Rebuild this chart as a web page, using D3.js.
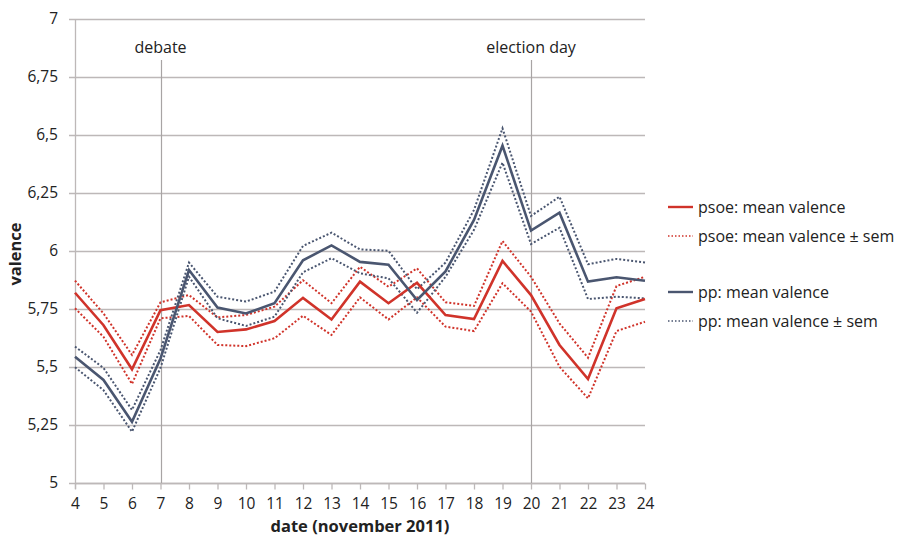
<!DOCTYPE html>
<html>
<head>
<meta charset="utf-8">
<script src="https://cdn.jsdelivr.net/npm/d3@7"></script>
<style>
  html, body { margin: 0; padding: 0; background: #fff; }
  svg { display: block; font-family: "Open Sans", "Noto Sans", sans-serif; }
</style>
</head>
<body>
<svg id="chart" width="902" height="538"></svg>
<script>
// Days of November 2011
const days = [4, 5, 6, 7, 8, 9, 10, 11, 12, 13, 14, 15, 16, 17, 18, 19, 20, 21, 22, 23, 24];

// PSOE mean valence and mean ± standard error
const psoeMean  = [5.82, 5.68, 5.49, 5.745, 5.767, 5.651, 5.662, 5.698, 5.798, 5.705, 5.868, 5.775, 5.863, 5.724, 5.707, 5.957, 5.81, 5.595, 5.448, 5.753, 5.793];
const psoeUpper = [5.872, 5.731, 5.552, 5.779, 5.81, 5.714, 5.724, 5.76, 5.874, 5.775, 5.932, 5.846, 5.925, 5.779, 5.763, 6.043, 5.889, 5.688, 5.54, 5.849, 5.889];
const psoeLower = [5.753, 5.63, 5.427, 5.71, 5.72, 5.595, 5.59, 5.624, 5.721, 5.638, 5.80, 5.705, 5.80, 5.674, 5.655, 5.861, 5.739, 5.501, 5.365, 5.655, 5.695];

// PP mean valence and mean ± standard error
const ppMean  = [5.544, 5.444, 5.264, 5.537, 5.918, 5.756, 5.731, 5.775, 5.96, 6.024, 5.953, 5.941, 5.789, 5.912, 6.134, 6.454, 6.088, 6.165, 5.868, 5.887, 5.872];
const ppUpper = [5.588, 5.496, 5.315, 5.573, 5.95, 5.803, 5.782, 5.825, 6.022, 6.079, 6.007, 6.001, 5.835, 5.95, 6.177, 6.529, 6.151, 6.234, 5.943, 5.966, 5.95];
const ppLower = [5.499, 5.40, 5.221, 5.496, 5.889, 5.71, 5.677, 5.717, 5.908, 5.969, 5.904, 5.882, 5.734, 5.889, 6.091, 6.381, 6.03, 6.10, 5.793, 5.803, 5.796];

// Y axis ticks and their comma-decimal labels
const yTicks = [5, 5.25, 5.5, 5.75, 6, 6.25, 6.5, 6.75, 7];
const yTickLabels = ["5", "5,25", "5,5", "5,75", "6", "6,25", "6,5", "6,75", "7"];

// Marked events
const events = [{ day: 7, label: "debate" }, { day: 20, label: "election day" }];

const legendItems = [
  { label: "psoe: mean valence", color: "#d0332a", dashed: false },
  { label: "psoe: mean valence \u00b1 sem", color: "#d0332a", dashed: true },
  null,
  { label: "pp: mean valence", color: "#4a5670", dashed: false },
  { label: "pp: mean valence \u00b1 sem", color: "#4a5670", dashed: true }
];

const RED = "#d0332a";
const BLUE = "#4a5670";
const GRID = "#bdb8b8";
const FONT = "'Open Sans', 'Noto Sans', sans-serif";

const svg = d3.select("#chart");
const margin = { left: 75, right: 257, top: 19, bottom: 55 };
const W = 902, H = 538;

const x = d3.scaleLinear().domain([4, 24]).range([margin.left, W - margin.right]);
const y = d3.scaleLinear().domain([5, 7]).range([H - margin.bottom, margin.top]);

// Horizontal gridlines
svg.append("g")
  .selectAll("line")
  .data(yTicks)
  .join("line")
  .attr("x1", x(4) - 6).attr("x2", x(24))
  .attr("y1", d => Math.round(y(d)) + 0.5).attr("y2", d => Math.round(y(d)) + 0.5)
  .attr("stroke", GRID).attr("stroke-width", 1.3);

// Y axis labels
const yAxis = d3.axisLeft(y).tickValues(yTicks)
  .tickFormat((d, i) => yTickLabels[i]).tickSize(0).tickPadding(17);
svg.append("g")
  .attr("transform", `translate(${x(4)},0)`)
  .call(yAxis)
  .call(g => g.select(".domain").remove())
  .call(g => g.selectAll("text").attr("font-size", 15.5).attr("fill", "#222")
    .attr("font-family", FONT));

// Left axis line
svg.append("line")
  .attr("x1", x(4) + 0.5).attr("x2", x(4) + 0.5)
  .attr("y1", y(7)).attr("y2", y(5) + 6)
  .attr("stroke", GRID).attr("stroke-width", 1.3);

// X axis
const xAxis = d3.axisBottom(x).tickValues(days).tickSize(6).tickPadding(8).tickFormat(d3.format("d"));
svg.append("g")
  .attr("transform", `translate(0,${Math.round(y(5)) + 0.5})`)
  .call(xAxis)
  .call(g => g.select(".domain").attr("stroke", GRID).attr("stroke-width", 1.3).attr("d", `M${x(4)},0H${x(24)}`))
  .call(g => g.selectAll(".tick line").attr("stroke", GRID).attr("stroke-width", 1.3))
  .call(g => g.selectAll("text").attr("font-size", 15.5).attr("fill", "#222")
    .attr("font-family", FONT));

// Event markers
const ev = svg.append("g").selectAll("g").data(events).join("g");
ev.append("line")
  .attr("x1", d => Math.round(x(d.day)) + 0.5).attr("x2", d => Math.round(x(d.day)) + 0.5)
  .attr("y1", 60).attr("y2", y(5))
  .attr("stroke", "#a8a4a4").attr("stroke-width", 1.2);
ev.append("text")
  .attr("x", d => x(d.day)).attr("y", 53)
  .attr("text-anchor", "middle")
  .attr("font-size", 16).attr("fill", "#222")
  .text(d => d.label);

// Series lines
const line = d3.line().x((d, i) => x(days[i])).y(d => y(d));
const series = [
  { values: psoeUpper, color: RED, dashed: true },
  { values: psoeLower, color: RED, dashed: true },
  { values: ppUpper, color: BLUE, dashed: true },
  { values: ppLower, color: BLUE, dashed: true },
  { values: psoeMean, color: RED, dashed: false },
  { values: ppMean, color: BLUE, dashed: false }
];
svg.append("g").selectAll("path").data(series).join("path")
  .attr("d", d => line(d.values))
  .attr("fill", "none")
  .attr("stroke", d => d.color)
  .attr("stroke-width", d => d.dashed ? 2 : 2.6)
  .attr("stroke-dasharray", d => d.dashed ? "2 2" : null)
  .attr("stroke-linejoin", "miter");

// Axis titles
svg.append("text")
  .attr("x", (x(4) + x(24)) / 2).attr("y", 532)
  .attr("text-anchor", "middle")
  .attr("font-size", 16.5).attr("font-weight", "bold").attr("fill", "#222")
  .text("date (november 2011)");
svg.append("text")
  .attr("transform", `translate(21,${y(6) + 3}) rotate(-90)`)
  .attr("text-anchor", "middle")
  .attr("font-size", 16.5).attr("font-weight", "bold").attr("fill", "#222")
  .text("valence");

// Legend
const legendY = [207, 236, null, 292, 321];
const lg = svg.append("g");
legendItems.forEach((item, i) => {
  if (!item) return;
  const ly = legendY[i];
  lg.append("line")
    .attr("x1", 668).attr("x2", 693)
    .attr("y1", ly).attr("y2", ly)
    .attr("stroke", item.color)
    .attr("stroke-width", item.dashed ? 1.5 : 2.4)
    .attr("stroke-dasharray", item.dashed ? "1.5 2" : null);
  lg.append("text")
    .attr("x", 698).attr("y", ly + 5.5)
    .attr("font-size", 16).attr("fill", "#222")
    .text(item.label);
});
</script>
</body>
</html>
